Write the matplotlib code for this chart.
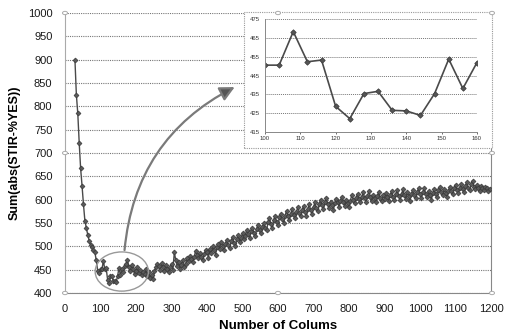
import matplotlib.pyplot as plt
from matplotlib.patches import Ellipse, Rectangle, Circle

plt.rcParams['font.family'] = ['Liberation Sans', 'DejaVu Sans']

# number of columns (every 4th column sampled)
cols = list(range(28, 1200, 4))

# Sum(abs(STIR-%YES))
vals = [
    # 28 - 96
    900, 825, 785, 722, 667, 630, 590, 555, 540, 525, 512, 503, 498, 492, 488, 470, 448, 442,
    # 100 - 160 (shown in the inset)
    450.5, 450.5, 468.3, 452.3, 453.2, 428.6, 422.1, 435.4, 436.6, 426.5, 426.2, 423.8, 435.4, 453.7, 438.1, 451.9,
    # 164 - 296
    445, 458, 462, 470, 455, 448, 460, 452, 440, 447,
    455, 442, 450, 438, 446, 440, 452, 436, 444, 432,
    438, 430, 447, 455, 462, 458, 450, 464, 456, 448,
    460, 452, 445, 455,
    # 300 - 396
    462, 450, 488, 470, 458, 466, 452, 460, 470, 456,
    462, 475, 468, 480, 472, 466, 478, 490, 482, 474,
    486, 478, 470, 484, 492,
    # 400 - 496
    488, 476, 495, 486, 500, 492, 482, 498, 505, 494,
    510, 500, 492, 506, 514, 502, 496, 512, 520, 508,
    500, 516, 524, 510, 518,
    # 500 - 596
    528, 515, 522, 535, 526, 518, 532, 540, 528, 522,
    538, 546, 534, 528, 542, 550, 540, 535, 552, 560,
    548, 540, 556, 564, 552,
    # 600 - 696
    545, 562, 570, 558, 550, 566, 576, 564, 556, 570,
    580, 568, 560, 574, 584, 572, 564, 578, 586, 574,
    566, 580, 590, 578, 570,
    # 700 - 796
    584, 594, 582, 575, 590, 600, 588, 580, 594, 604,
    590, 582, 596, 588, 578, 592, 602, 594, 584, 598,
    606, 596, 586, 600, 592,
    # 800 - 896
    584, 598, 610, 600, 592, 604, 612, 602, 594, 606,
    616, 604, 596, 608, 618, 606, 598, 610, 604, 596,
    608, 616, 604, 598, 610,
    # 900 - 996
    602, 614, 606, 598, 610, 618, 606, 600, 612, 620,
    608, 600, 612, 622, 610, 602, 616, 608, 598, 612,
    620, 610, 604, 616, 624,
    # 1000 - 1096
    612, 604, 616, 624, 612, 606, 618, 610, 600, 614,
    622, 612, 606, 620, 628, 616, 610, 622, 614, 606,
    618, 628, 618, 612, 624,
    # 1100 - 1196
    632, 620, 614, 626, 634, 622, 616, 630, 638, 626,
    620, 634, 640, 628, 622, 632, 626, 618, 630, 624,
    620, 628, 624, 618, 622,
]

x_ticks = [0, 100, 200, 300, 400, 500, 600, 700, 800, 900, 1000, 1100, 1200]
y_ticks = [400, 450, 500, 550, 600, 650, 700, 750, 800, 850, 900, 950, 1000]
inset_x_ticks = [100, 110, 120, 130, 140, 150, 160]
inset_y_ticks = [415, 425, 435, 445, 455, 465, 475]

W, H = 505, 334
fig = plt.figure(figsize=(W / 100, H / 100), dpi=100)

# main plot area in pixels: x 65..491, y 13..293
ax = fig.add_axes([65 / W, 1 - 293 / H, (491 - 65) / W, (293 - 13) / H])
ax.plot(cols, vals, color='#4a4a4a', lw=1.0, marker='D', ms=2.5,
        mfc='#5a5a5a', mec='#3a3a3a', mew=0.5, zorder=3)
ax.set_xlim(0, 1200)
ax.set_ylim(400, 1000)
ax.set_xticks(x_ticks)
ax.set_yticks(y_ticks)
ax.tick_params(length=0, labelsize=8, colors='#1a1a1a')
ax.tick_params(axis='y', pad=9)
ax.tick_params(axis='x', pad=8)
ax.grid(axis='y', color='#777777', ls=(0, (1, 1)), lw=0.8)
ax.spines['top'].set_visible(False)
ax.spines['left'].set_color('#aaaaaa')
ax.spines['bottom'].set_color('#888888')
ax.spines['bottom'].set_linestyle((0, (1, 1)))
ax.spines['right'].set_color('#888888')
ax.spines['right'].set_linestyle((0, (1, 1)))
ax.set_xlabel('Number of Colums', fontsize=9.5, fontweight='bold', labelpad=4)
ax.set_ylabel('Sum(abs(STIR-%YES))', fontsize=9, fontweight='bold', labelpad=5)

# circled region and curved arrow pointing at the inset
ax.add_patch(Ellipse((160, 446), 150, 84, fill=False, ec='#999999', lw=1.0, zorder=4))
ax.annotate('', xy=(485, 844), xytext=(167, 486),
            arrowprops=dict(arrowstyle='-|>', color='#9a9a9a', lw=1.6,
                            mutation_scale=22, fc='#555555', ec='#7a7a7a',
                            connectionstyle='arc3,rad=-0.28'),
            zorder=4)

# selection handles of the chart object
for px, py in [(65, 13), (278, 13), (492, 13), (65, 153), (492, 153),
               (65, 293), (278, 293), (492, 293)]:
    fig.patches.append(Circle((px / W, 1 - py / H), 2.5 / W, transform=fig.transFigure,
                              fill=True, fc='white', ec='#aaaaaa', lw=0.7, zorder=10))

# inset frame
fig.patches.append(Rectangle((244 / W, 1 - 148 / H), (492 - 244) / W, (148 - 12) / H,
                             transform=fig.transFigure, fc='white', ec='#999999',
                             lw=0.8, ls=(0, (1, 1)), zorder=5))

axi = fig.add_axes([265 / W, 1 - 132 / H, (477 - 265) / W, (132 - 19) / H], zorder=6)
i0, i1 = cols.index(100), cols.index(160) + 1
axi.plot(cols[i0:i1], vals[i0:i1], color='#4a4a4a', lw=1.2, marker='D', ms=2.8,
         mfc='#555555', mec='#3a3a3a', mew=0.5)
axi.set_xlim(100, 160)
axi.set_ylim(415, 475)
axi.set_xticks(inset_x_ticks)
axi.set_yticks(inset_y_ticks)
axi.tick_params(labelsize=4.3, colors='#333333', length=1.5, width=0.5, pad=1.5)
axi.tick_params(axis='y', length=0, pad=4)
axi.grid(axis='y', color='#777777', ls=(0, (1, 1)), lw=0.7)
axi.spines['top'].set_visible(False)
axi.spines['right'].set_visible(False)
for s in ['left', 'bottom']:
    axi.spines[s].set_color('#888888')
    axi.spines[s].set_linestyle((0, (1, 1)))
    axi.spines[s].set_linewidth(0.7)

fig.savefig('out.png', dpi=100)
